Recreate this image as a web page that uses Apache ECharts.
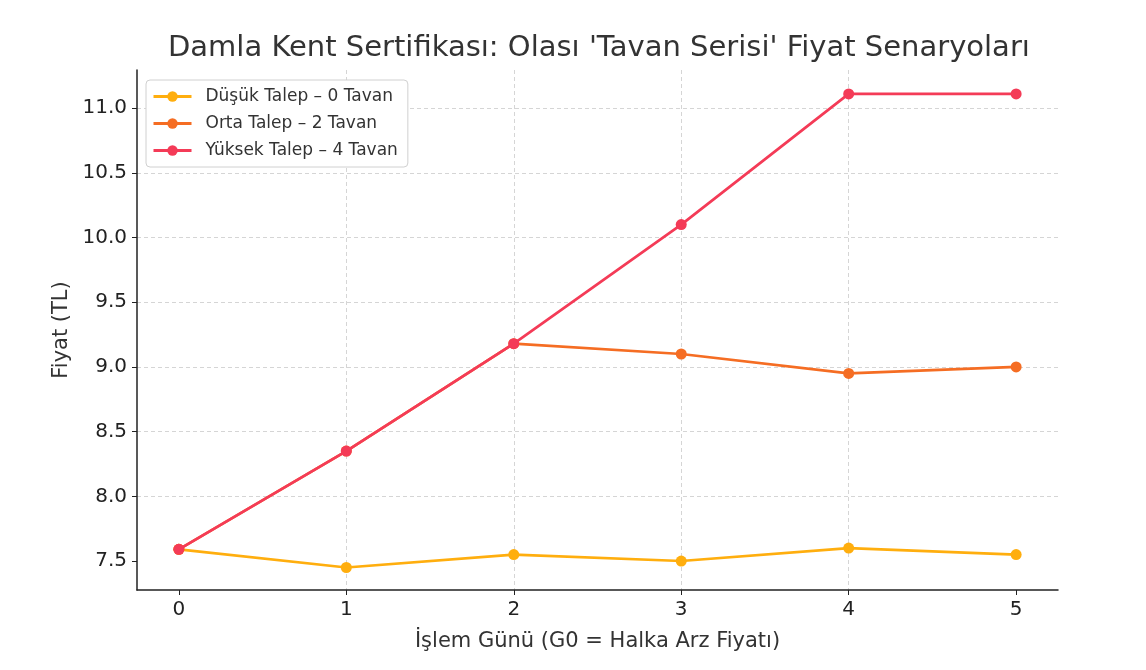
<!DOCTYPE html>
<html>
<head>
<meta charset="utf-8">
<script src="https://cdn.jsdelivr.net/npm/echarts@6/dist/echarts.min.js"></script>
<style>
    html, body { margin: 0; padding: 0; background: #fff; }
    #main { width: 1146px; height: 670px; }
</style>
</head>
<body>
<div id="main"></div>
<script>
    var days = [0, 1, 2, 3, 4, 5];
    var lowNames = 'Düşük Talep – 0 Tavan';
    var midNames = 'Orta Talep – 2 Tavan';
    var highNames = 'Yüksek Talep – 4 Tavan';
    var lowPrices = [7.59, 7.45, 7.55, 7.50, 7.60, 7.55];
    var midPrices = [7.59, 8.35, 9.18, 9.10, 8.95, 9.00];
    var highPrices = [7.59, 8.35, 9.18, 10.10, 11.11, 11.11];
    var yTicks = [7.5, 8.0, 8.5, 9.0, 9.5, 10.0, 10.5, 11.0];

    function pairs(vals) {
        var out = [];
        for (var i = 0; i < days.length; i++) {
            out.push([days[i], vals[i]]);
        }
        return out;
    }

    var font = 'DejaVu Sans';
    var chart = echarts.init(document.getElementById('main'));

    function lineSeries(name, vals, color, z) {
        return {
            name: name,
            type: 'line',
            data: pairs(vals),
            symbol: 'circle',
            symbolSize: 11,
            z: z,
            lineStyle: { color: color, width: 2.7 },
            itemStyle: { color: color }
        };
    }

    var gridLine = { color: '#d5d5d5', type: [4, 3] };

    var option = {
        animation: false,
        backgroundColor: '#fff',
        textStyle: { fontFamily: font },
        title: {
            text: "Damla Kent Sertifikası: Olası 'Tavan Serisi' Fiyat Senaryoları",
            left: 163,
            top: 29,
            textStyle: { fontFamily: font, fontSize: 29, fontWeight: 'normal', color: '#333' }
        },
        legend: {
            orient: 'vertical',
            left: 146,
            top: 80,
            padding: [8, 10, 8, 6],
            itemGap: 10,
            itemWidth: 38,
            itemHeight: 13,
            lineStyle: { width: 3 },
            backgroundColor: '#fff',
            borderColor: '#d0d0d0',
            borderWidth: 1,
            borderRadius: 4,
            textStyle: { fontFamily: font, fontSize: 17, color: '#333', padding: [0, 0, 0, 9] },
            data: [lowNames, midNames, highNames]
        },
        grid: { left: 137, right: 88, top: 70, bottom: 80 },
        xAxis: {
            type: 'value',
            min: -0.25,
            max: 5.25,
            name: 'İşlem Günü (G0 = Halka Arz Fiyatı)',
            nameLocation: 'middle',
            nameGap: 41,
            nameTextStyle: { fontFamily: font, fontSize: 21, color: '#333' },
            axisLine: { show: true, onZero: false, lineStyle: { color: '#222', width: 1.5 } },
            axisTick: { show: true, length: 5, lineStyle: { color: '#222' }, customValues: days },
            axisLabel: { fontFamily: font, fontSize: 20, color: '#222', margin: 10, customValues: days },
            splitLine: { show: true, showMinLine: false, showMaxLine: false, lineStyle: gridLine }
        },
        yAxis: {
            type: 'value',
            min: 7.276,
            max: 11.295,
            splitNumber: 8,
            name: 'Fiyat (TL)',
            nameLocation: 'middle',
            nameGap: 64,
            nameTextStyle: { fontFamily: font, fontSize: 21, color: '#333' },
            axisLine: { show: true, onZero: false, lineStyle: { color: '#222', width: 1.5 } },
            axisTick: { show: true, length: 5, lineStyle: { color: '#222' }, customValues: yTicks },
            axisLabel: {
                fontFamily: font, fontSize: 20, color: '#222', margin: 10, customValues: yTicks,
                formatter: function (v) { return v.toFixed(1); }
            },
            splitLine: { show: true, showMinLine: false, showMaxLine: true, lineStyle: gridLine }
        },
        series: [
            lineSeries(lowNames, lowPrices, '#FFAE0E', 3),
            lineSeries(midNames, midPrices, '#F56D23', 4),
            lineSeries(highNames, highPrices, '#F43B57', 5)
        ]
    };

    chart.setOption(option);
</script>
</body>
</html>
